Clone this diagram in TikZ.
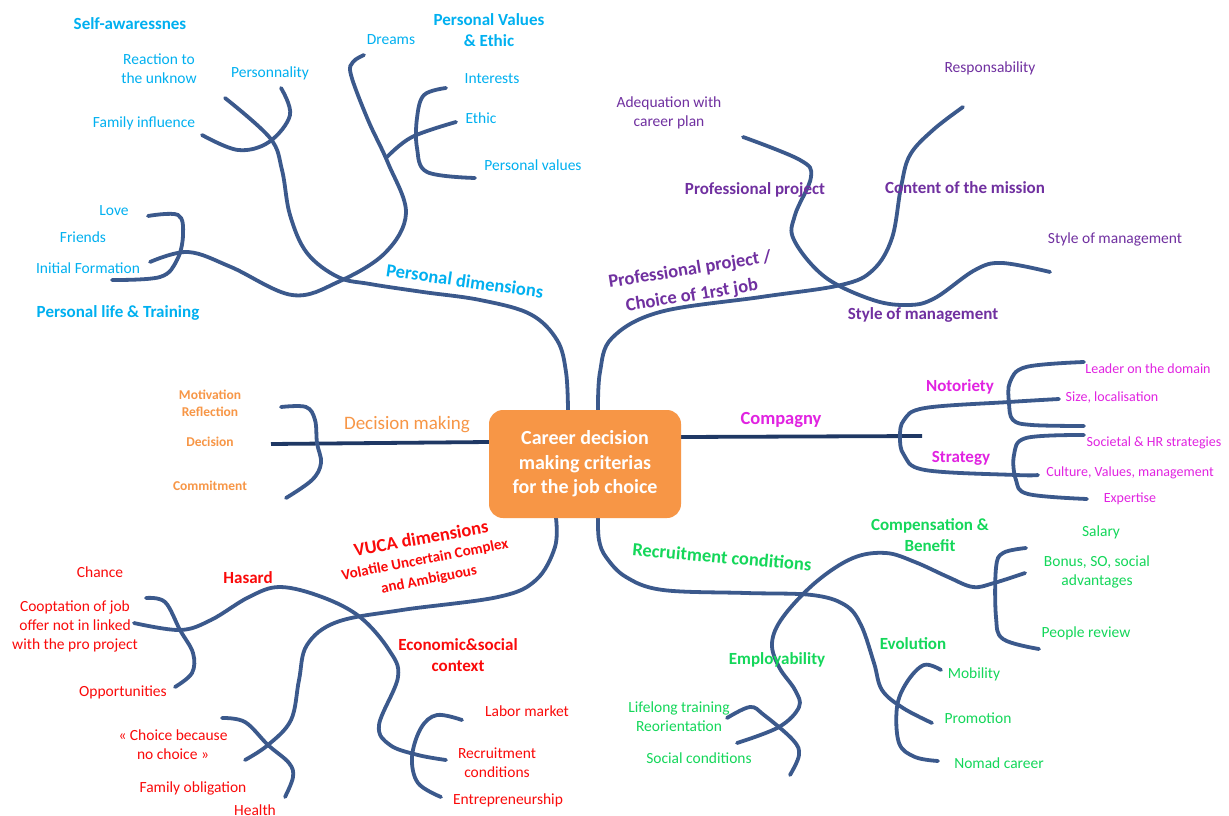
\documentclass[tikz,border=0pt]{standalone}
\usepackage{fontspec}
\setmainfont{Carlito}
\definecolor{linec}{RGB}{59,89,140}
\definecolor{navy}{RGB}{31,56,100}
\definecolor{cyanl}{RGB}{0,176,240}
\definecolor{purp}{RGB}{112,48,160}
\definecolor{orl}{RGB}{247,150,70}
\definecolor{boxor}{RGB}{247,150,70}
\definecolor{mag}{RGB}{225,35,225}
\definecolor{grn}{RGB}{20,215,90}
\definecolor{redl}{RGB}{250,10,10}
\tikzset{
  lbl/.style={font=\fontsize{15.5}{19}\selectfont, align=center, inner sep=0pt},
  sml/.style={font=\fontsize{14}{16}\selectfont, align=center, inner sep=0pt},
  osml/.style={font=\bfseries\fontsize{13.5}{17}\selectfont, align=center, inner sep=0pt},
  hd/.style={font=\bfseries\fontsize{17}{21}\selectfont, align=center, inner sep=0pt},
  br/.style={draw=linec, line width=3.8pt, line cap=round},
  nv/.style={draw=navy, line width=3.8pt},
  corebox/.style={fill=boxor, rounded corners=14pt, minimum width=192pt, minimum height=108pt,
     text=white, font=\bfseries\fontsize{20}{24.5}\selectfont, align=center, inner sep=0pt}
}
\begin{document}
\begin{tikzpicture}[x=1pt,y=-1pt]
\useasboundingbox[fill=white] (0,0) rectangle (1229,816);

% ---------- curves ----------
% Personal dimensions / Self-awareness
\draw[br] plot[smooth, tension=0.6] coordinates {(568,410) (566,372) (557,340) (530,314) (480,300) (423,292) (370,284) (338,277) (307,253) (290,215) (282,170) (270,138) (225,98)};
\draw[br] plot[smooth, tension=0.6] coordinates {(202,135) (238,150) (269,142) (290,115) (281,88)};
\draw[br] plot[smooth, tension=0.6] coordinates {(150,262) (188,252) (231,267) (292,295) (338,282) (385,253) (406,213) (388,163) (368,120) (351,75) (353,62) (364,55)};
\draw[br] plot[smooth, tension=0.6] coordinates {(387,157) (412,137) (456,122)};
\draw[br] plot[smooth, tension=0.6] coordinates {(446,88) (424,95) (417,118) (417,148) (427,172) (475,178)};
\draw[br] plot[smooth, tension=0.6] coordinates {(148,216) (178,215) (183,235) (177,260) (160,277) (112,280)};
% Professional project
\draw[br] plot[smooth, tension=0.6] coordinates {(598,410) (600,372) (612,338) (660,312) (761,297) (841,285) (873,270) (892,238) (901,187) (910,155) (933,130) (963,107)};
\draw[br] plot[smooth, tension=0.6] coordinates {(743,137) (800,160) (811,177) (795,215) (794,240) (825,277) (873,300) (909,305) (935,298) (975,270) (1002,263) (1050,272)};
% Decision making
\draw[nv] (271,444) -- (489,442);
\draw[br] plot[smooth, tension=0.6] coordinates {(281,407) (306,407) (315,420) (317,443) (321,463) (312,480) (286,498)};
% Company
\draw[nv] (681,437) -- (922,436);
\draw[br] plot[smooth, tension=0.6] coordinates {(1059,399) (1009,402) (925,408) (904,420) (900,437) (904,455) (925,470) (1016,475) (1038,475)};
\draw[br] plot[smooth, tension=0.6] coordinates {(1084,362) (1026,367) (1010,382) (1009,403) (1013,420) (1032,425) (1084,426)};
\draw[br] plot[smooth, tension=0.6] coordinates {(1084,435) (1026,438) (1014,455) (1016,480) (1028,494) (1087,499)};
% Recruitment conditions
\draw[br] plot[smooth, tension=0.6] coordinates {(598,518) (599,540) (606,557) (626,577) (663,590) (746,593) (812,595) (845,605) (861,625) (874,663) (882,690) (903,708) (932,723)};
\draw[br] plot[smooth, tension=0.6] coordinates {(1025,573) (994,583) (973,587) (948,577) (915,562) (886,553) (853,558) (816,582) (783,617) (772,643) (779,667) (795,690) (799,707) (779,727) (737,743)};
\draw[br] plot[smooth, tension=0.6] coordinates {(1026,548) (1003,553) (996,568) (996,617) (1003,639) (1039,649)};
\draw[br] plot[smooth, tension=0.6] coordinates {(941,670) (924,665) (907,682) (897,707) (899,743) (915,757) (938,761)};
\draw[br] plot[smooth, tension=0.6] coordinates {(727,718) (750,707) (764,715) (793,740) (799,755) (790,775)};
% VUCA
\draw[br] plot[smooth, tension=0.6] coordinates {(556,518) (555,547) (536,580) (498,597) (402,610) (337,622) (307,645) (299,680) (291,720) (268,745) (245,760)};
\draw[br] plot[smooth, tension=0.6] coordinates {(134,623) (180,630) (211,620) (249,597) (280,587) (322,597) (360,617) (389,650) (398,677) (379,725) (390,745) (418,755) (446,760)};
\draw[br] plot[smooth, tension=0.6] coordinates {(146,598) (165,602) (180,630) (193,653) (192,673) (175,687)};
\draw[br] plot[smooth, tension=0.6] coordinates {(462,720) (437,715) (421,728) (412,757) (418,783) (441,797)};
\draw[br] plot[smooth, tension=0.6] coordinates {(222,718) (245,722) (268,745) (289,763) (293,777) (285,797)};

% ---------- centre ----------
\node[corebox] (core) at (585,464) {Career decision\\making criterias\\for the job choice};

% ---------- Personal dimensions (cyan) ----------
\begin{scope}[text=cyanl]
\node[hd] (selfaw) at (130,24) {Self-awaressnes};
\node[hd] (pvals) at (489,30) {Personal Values\\\& Ethic};
\node[lbl] (dreams) at (391,40) {Dreams};
\node[lbl] (react) at (159,69) {Reaction to\\the unknow};
\node[lbl] (perso) at (270,73) {Personnality};
\node[lbl] (inter) at (492,79) {Interests};
\node[lbl] (ethic) at (481,118) {Ethic};
\node[lbl] (famin) at (144,123) {Family influence};
\node[lbl] (pvalues) at (533,165) {Personal values};
\node[lbl] (love) at (114,211) {Love};
\node[lbl] (friends) at (83,237) {Friends};
\node[lbl] (initf) at (88,268) {Initial Formation};
\node[hd] (plife) at (118,313) {Personal life \& Training};
\node[hd, rotate=-8, font=\bfseries\fontsize{18.5}{22}\selectfont] (pdim) at (465,281) {Personal dimensions};
\end{scope}

% ---------- Professional project (purple) ----------
\begin{scope}[text=purp]
\node[lbl] (respo) at (990,68) {Responsability};
\node[lbl] (adeq) at (669,113) {Adequation with\\career plan};
\node[hd] (pproj) at (755,190) {Professional project};
\node[hd] (content) at (965,188) {Content of the mission};
\node[lbl] (style1) at (1115,239) {Style of management};
\node[hd] (style2) at (923,315) {Style of management};
\node[hd, rotate=9, font=\bfseries\fontsize{18.5}{22}\selectfont] (pch1) at (690,270) {Professional project /};
\node[hd, rotate=9, font=\bfseries\fontsize{18.5}{22}\selectfont] (pch2) at (692,296) {Choice of 1rst job};
\end{scope}

% ---------- Decision making (orange) ----------
\begin{scope}[text=orl]
\node[osml] (motiv) at (210,403) {Motivation\\Reflection};
\node[osml] (decis) at (210,442) {Decision};
\node[osml] (commit) at (210,486) {Commitment};
\node[lbl, font=\fontsize{19}{22}\selectfont] (decmak) at (407,425) {Decision making};
\end{scope}

% ---------- Company (magenta) ----------
\begin{scope}[text=mag]
\node[hd, font=\bfseries\fontsize{18.5}{22}\selectfont] (comp) at (781,420) {Compagny};
\node[hd] (notor) at (960,387) {Notoriety};
\node[hd] (strat) at (961,458) {Strategy};
\node[sml] (leader) at (1148,369) {Leader on the domain};
\node[sml] (size) at (1112,398) {Size, localisation};
\node[sml] (soc) at (1154,443) {Societal \& HR strategies};
\node[sml] (cult) at (1130,473) {Culture, Values, management};
\node[sml] (exper) at (1130,499) {Expertise};
\end{scope}

% ---------- Recruitment conditions (green) ----------
\begin{scope}[text=grn]
\node[hd, rotate=-5, font=\bfseries\fontsize{18.5}{22}\selectfont] (recr) at (722,557) {Recruitment conditions};
\node[hd] (compb) at (930,535) {Compensation \&\\Benefit};
\node[lbl] (salary) at (1101,532) {Salary};
\node[lbl] (bonus) at (1097,572) {Bonus, SO, social\\advantages};
\node[lbl] (people) at (1086,633) {People review};
\node[hd] (evol) at (913,644) {Evolution};
\node[hd] (emplo) at (777,660) {Employability};
\node[lbl] (mobil) at (974,674) {Mobility};
\node[lbl] (promo) at (978,718) {Promotion};
\node[lbl] (nomad) at (999,763) {Nomad career};
\node[lbl] (lifel) at (679,717) {Lifelong training\\Reorientation};
\node[lbl] (socc) at (699,758) {Social conditions};
\end{scope}

% ---------- VUCA (red) ----------
\begin{scope}[text=redl]
\node[hd, rotate=10, font=\bfseries\fontsize{18.5}{22}\selectfont] (vuca) at (421,538) {VUCA dimensions};
\node[hd, rotate=11, font=\bfseries\fontsize{15}{18}\selectfont] (vola1) at (425,560) {Volatile Uncertain Complex};
\node[hd, rotate=11, font=\bfseries\fontsize{15}{18}\selectfont] (vola2) at (429,580) {and Ambiguous};
\node[hd] (hasard) at (248,578) {Hasard};
\node[lbl] (chance) at (100,572) {Chance};
\node[lbl] (coopt) at (75,626) {Cooptation of job\\offer not in linked\\with the pro project};
\node[lbl] (oppor) at (123,692) {Opportunities};
\node[hd] (econ) at (458,655) {Economic\&social\\context};
\node[lbl] (labor) at (527,711) {Labor market};
\node[lbl] (recc) at (497,763) {Recruitment\\conditions};
\node[lbl] (entre) at (508,800) {Entrepreneurship};
\node[lbl] (choice) at (173,745) {« Choice because\\no choice »};
\node[lbl] (famob) at (193,788) {Family obligation};
\node[lbl] (health) at (255,810) {Health};
\end{scope}
\end{tikzpicture}
\end{document}
